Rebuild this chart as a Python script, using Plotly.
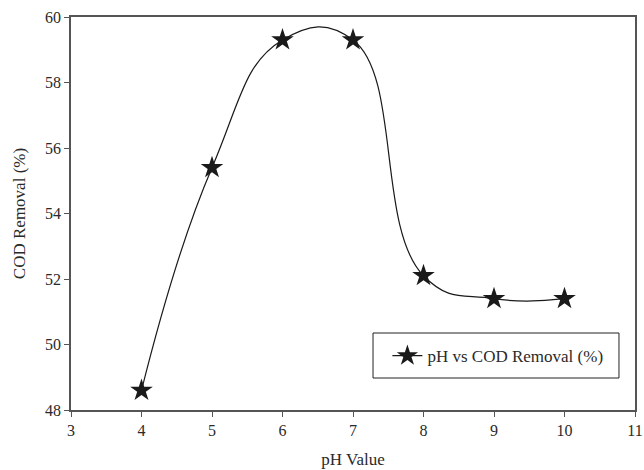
import plotly.graph_objects as go

ph_values = [4, 5, 6, 7, 8, 9, 10]
cod_removal = [48.6, 55.4, 59.3, 59.3, 52.1, 51.4, 51.4]
series_name = "pH vs COD Removal (%)"
x_ticks = [3, 4, 5, 6, 7, 8, 9, 10, 11]
y_ticks = [48, 50, 52, 54, 56, 58, 60]

font_family = "Liberation Serif, Times New Roman, serif"
axis_color = "#555555"
text_color = "#2a2a2a"

fig = go.Figure()
fig.add_trace(go.Scatter(
    x=ph_values, y=cod_removal, name=series_name,
    mode="lines+markers",
    line=dict(color="#1a1a1a", width=1.2, shape="spline", smoothing=1.3),
    marker=dict(symbol="star", size=17, color="#1a1a1a", line=dict(width=0)),
    cliponaxis=True,
))

axis_common = dict(
    showline=True, linecolor=axis_color, linewidth=1.5, mirror=True,
    ticks="outside", ticklen=5, tickcolor=axis_color, tickwidth=1.2,
    showgrid=False, zeroline=False, automargin=False,
    ticklabeloverflow="allow",
    tickfont=dict(family=font_family, size=16, color=text_color),
)

fig.update_layout(
    width=644, height=470,
    margin=dict(l=71, r=9, t=17, b=60),
    paper_bgcolor="white", plot_bgcolor="white",
    font=dict(family=font_family, size=16, color=text_color),
    xaxis=dict(range=[3, 11], tickvals=x_ticks,
               title=dict(text="pH Value", font=dict(family=font_family, size=17, color=text_color)),
               **axis_common),
    yaxis=dict(range=[48, 60], tickvals=y_ticks,
               title=dict(text="COD Removal (%)", font=dict(family=font_family, size=17, color=text_color)),
               **axis_common),
    showlegend=True,
    legend=dict(x=0.561, y=0.137, xanchor="left", yanchor="middle",
                borderwidth=0, bgcolor="rgba(0,0,0,0)",
                font=dict(family=font_family, size=17, color=text_color)),
    shapes=[dict(type="rect", xref="paper", yref="paper",
                 x0=0.5355, x1=0.9716, y0=0.0814, y1=0.1959,
                 line=dict(color="#222222", width=1), fillcolor="white", layer="below")],
)

fig.write_html(
    "out.html",
    config={"displayModeBar": False},
    post_script="document.body.style.margin='0';document.body.style.overflow='hidden';",
)
